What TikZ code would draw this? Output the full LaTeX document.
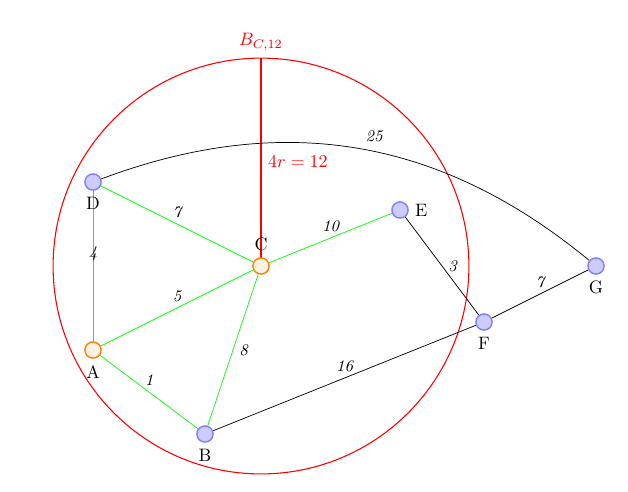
\documentclass[tikz,border=0pt]{standalone}
\usetikzlibrary{backgrounds}
\begin{document}
\begin{tikzpicture}[x=0.556pt,y=-0.556pt,
  vtx/.style={circle,draw=blue!50,fill=blue!20,line width=0.8pt,minimum size=9pt,inner sep=0pt},
  vtxo/.style={circle,draw=orange,fill=orange!10,line width=0.8pt,minimum size=9pt,inner sep=0pt},
  gedge/.style={green,line width=0.4pt},
  kedge/.style={black,line width=0.4pt},
  wt/.style={font=\small\itshape},
  redtxt/.style={text=red}]
\useasboundingbox (0,0) rectangle (628,491);
\node[vtx,label=below:D] (D) at (93,182) {};
\node[vtxo,label=below:A] (A) at (93,350) {};
\node[vtx,label=below:B] (B) at (205,434) {};
\node[vtxo,label=above:C] (C) at (261,266) {};
\node[vtx,label=right:E] (E) at (400,210) {};
\node[vtx,label=below:F] (F) at (484,322) {};
\node[vtx,label=below:G] (G) at (596,266) {};
\coordinate (top) at (261,58);
\begin{pgfonlayer}{background}
\fill[white] (0,0) rectangle (628,491);
\draw[red,line width=0.6pt] (C.center) circle (115.6pt);
\draw[red,line width=1.2pt] (C.center) -- node[midway,right,redtxt]{$4r=12$} (top)
  node[above,redtxt]{$B_{C,12}$};
\draw[gedge] (D) -- node[midway,above,wt,text=black]{7} (C);
\draw[gedge] (D) -- node[pos=0.42,wt,text=black]{4} (A);
\draw[gedge] (A) -- node[midway,above,wt,text=black]{5} (C);
\draw[gedge] (A) -- node[midway,above,wt,text=black]{1} (B);
\draw[gedge] (C) -- node[midway,right,wt,text=black]{8} (B);
\draw[gedge] (C) -- node[midway,above,wt,text=black]{10} (E);
\draw[kedge] (E) -- node[midway,right,wt]{3} (F);
\draw[kedge] (F) -- node[midway,above,wt]{7} (G);
\draw[kedge] (B) -- node[midway,above,wt]{16} (F);
\draw[kedge] (D) to[bend left=30] node[pos=0.535,above=2pt,wt]{25} (G);
\end{pgfonlayer}
\end{tikzpicture}
\end{document}
